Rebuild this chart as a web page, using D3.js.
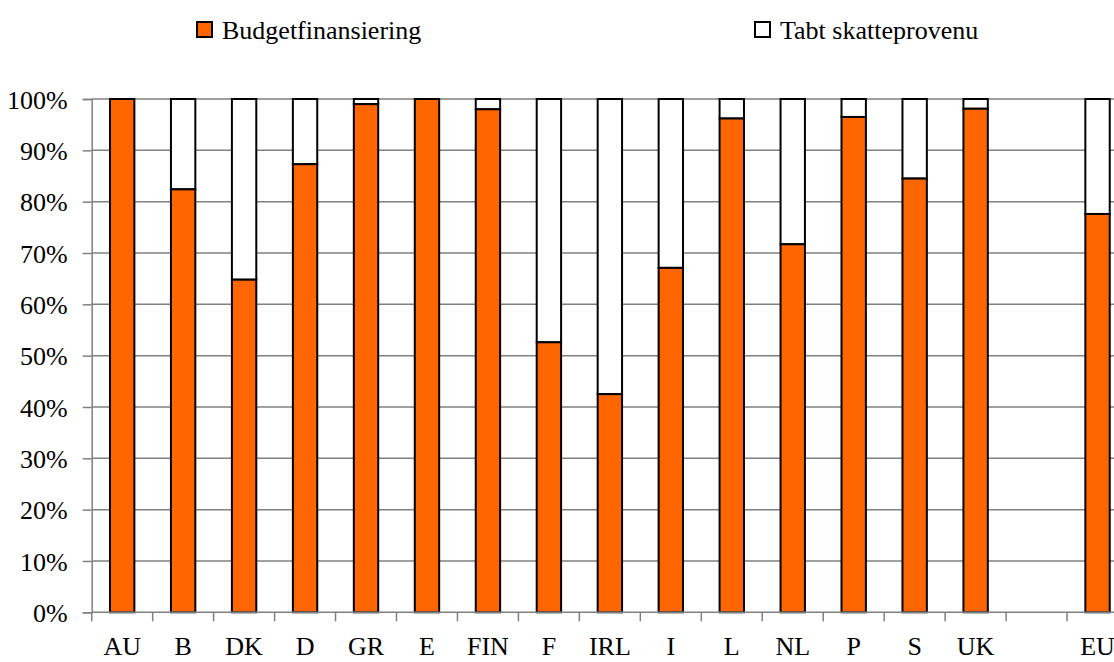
<!DOCTYPE html>
<html><head><meta charset="utf-8">
<script src="https://cdn.jsdelivr.net/npm/d3@7/dist/d3.min.js"></script>
<style>body{margin:0;background:#fff}svg{display:block}svg text{font-family:"Liberation Serif","Times New Roman","DejaVu Serif",serif;font-size:26px;fill:#000}</style>
</head><body>
<svg id="c" width="1114" height="662"></svg>
<script>
const categories = ["AU","B","DK","D","GR","E","FIN","F","IRL","I","L","NL","P","S","UK","","EU"];
const budget = [100,82.4,64.8,87.3,99,100,98,52.6,42.5,67.1,96.2,71.7,96.5,84.5,98.1,null,77.6];
const yTicks = [0,10,20,30,40,50,60,70,80,90,100];
const seriesNames = ["Budgetfinansiering","Tabt skatteprovenu"];
const colors = ["#FF6600","#FFFFFF"];

const svg = d3.select("#c");
const left = 91.7, step = 60.96;
const x = d3.scaleBand().domain(categories.map((c,i)=>i)).range([left, left+step*categories.length]).paddingInner(0.6).paddingOuter(0.3);
const y = d3.scaleLinear().domain([0,100]).range([612.3,99]);

// gridlines
svg.append("g").selectAll("line").data(yTicks.filter(d=>d>0)).join("line")
  .attr("x1",left).attr("x2",1114).attr("y1",d=>y(d)).attr("y2",d=>y(d))
  .attr("stroke","#808080").attr("stroke-width",1.5);

// bars
const g = svg.append("g");
categories.forEach((c,i)=>{
  const v = budget[i];
  if (v==null) return;
  g.append("rect").attr("x",x(i)).attr("width",x.bandwidth())
    .attr("y",y(100)).attr("height",y(v)-y(100))
    .attr("fill",colors[1]).attr("stroke","#000").attr("stroke-width",2);
  g.append("rect").attr("x",x(i)).attr("width",x.bandwidth())
    .attr("y",y(v)).attr("height",y(0)-y(v))
    .attr("fill",colors[0]).attr("stroke","#000").attr("stroke-width",2);
});

// y axis
const ya = svg.append("g").attr("transform",`translate(${left},0)`)
  .call(d3.axisLeft(y).tickValues(yTicks).tickFormat(d=>d+"%").tickSize(9).tickPadding(15));
ya.attr("font-family",null).attr("font-size",null);
ya.select(".domain").attr("stroke","#808080").attr("stroke-width",1.5);
ya.selectAll(".tick line").attr("stroke","#808080").attr("stroke-width",1.5);
ya.selectAll("text").attr("dy","0.35em");

// x axis
svg.append("line").attr("x1",left).attr("x2",1114).attr("y1",y(0)).attr("y2",y(0))
  .attr("stroke","#808080").attr("stroke-width",1.5);
const tickPos = d3.range(categories.length+1).map(i=>left+i*step);
svg.append("g").selectAll("line").data(tickPos).join("line")
  .attr("x1",d=>d).attr("x2",d=>d).attr("y1",y(0)).attr("y2",y(0)+9)
  .attr("stroke","#808080").attr("stroke-width",1.5);
svg.append("g").selectAll("text").data(categories).join("text")
  .attr("x",(d,i)=>x(i)+x.bandwidth()/2).attr("y",655)
  .attr("text-anchor","middle").text(d=>d);

// legend
const legX = [197,755];
seriesNames.forEach((n,i)=>{
  svg.append("rect").attr("x",legX[i]).attr("y",22).attr("width",15).attr("height",15)
    .attr("fill",colors[i]).attr("stroke","#000").attr("stroke-width",2);
  svg.append("text").attr("x",legX[i]+25).attr("y",39).text(n);
});
</script>
</body></html>
